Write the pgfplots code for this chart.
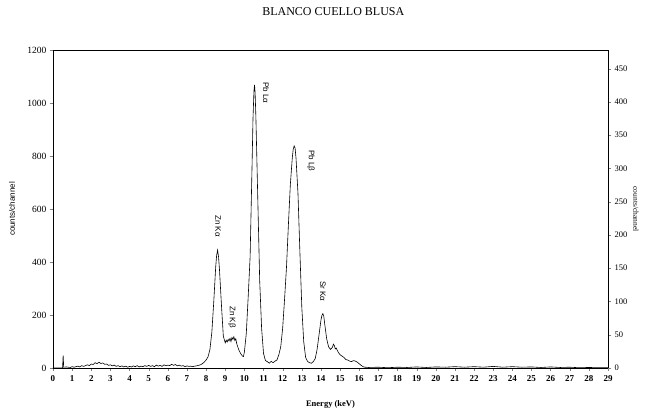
\documentclass[border=0pt]{standalone}
\usepackage{pgfplots}
\pgfplotsset{compat=1.18}
\usepackage{fontspec}
\setmainfont{Liberation Serif}
\newfontfamily\lsans{Liberation Sans}
\begin{document}
\begin{tikzpicture}
\path[use as bounding box] (-53pt,-41pt) rectangle (592pt,368pt);
\begin{axis}[
  scale only axis, width=555pt, height=318pt,
  xmin=0, xmax=29, ymin=0, ymax=1200,
  axis y line*=left, axis x line*=bottom,
  xtick={0,1,...,29}, ytick={0,200,...,1200},
  tick align=outside, tick pos=left,
  major tick length=3pt,
  /pgf/number format/assume math mode=true,
  /pgf/number format/1000 sep={},
  x tick label style={font=\fontsize{9}{10}\selectfont\bfseries, yshift=-1pt},
  y tick label style={font=\fontsize{9.5}{10}\selectfont},
  xlabel={Energy (keV)},
  xlabel style={font=\fontsize{8.5}{9}\selectfont\bfseries, at={(axis description cs:0.5,0)}, anchor=center, yshift=-36pt},
  ylabel={counts/channel},
  ylabel style={font=\lsans\fontsize{8}{9}\selectfont, at={(axis description cs:-0.0739,0.5)}, anchor=center},
  title={BLANCO CUELLO BLUSA},
  title style={font=\fontsize{12}{13}\selectfont, at={(axis description cs:0.505,1)}, anchor=center, yshift=32pt},
  axis line style={line width=0.7pt},
  clip=false,
]
\addplot[black, line width=0.6pt] coordinates {
(0.0,0) (0.5,0) (0.53,48) (0.56,3) (0.7,4) (0.9,2) (1.0,5) (1.1,3) (1.3,7) (1.4,4) (1.5,9) (1.6,6) (1.8,12) (1.9,9)
(2.0,15) (2.1,13) (2.2,20) (2.3,16) (2.4,22) (2.5,17) (2.6,19) (2.7,14) (2.8,15) (2.9,10) (3.0,12) (3.1,8) (3.2,11)
(3.3,6) (3.4,9) (3.5,5) (3.6,8) (3.7,4) (3.8,7) (3.9,3) (4.0,6) (4.1,4) (4.2,8) (4.3,5) (4.4,9) (4.5,4) (4.6,7) (4.7,5)
(4.8,9) (4.9,6) (5.0,10) (5.1,6) (5.2,9) (5.3,5) (5.4,11) (5.5,7) (5.6,10) (5.7,6) (5.8,12) (5.9,8) (6.0,11) (6.1,9)
(6.2,14) (6.3,10) (6.4,13) (6.5,8) (6.6,11) (6.7,7) (6.8,9) (6.9,5) (7.0,8) (7.1,6) (7.2,7) (7.3,5) (7.4,7)
(7.5,8) (7.6,10) (7.7,12) (7.8,16) (7.9,22) (8.0,30) (8.1,42) (8.2,70) (8.3,135) (8.4,250) (8.5,380) (8.55,425)
(8.6,445) (8.65,420) (8.7,370) (8.8,240) (8.9,120) (9.0,95) (9.05,105) (9.1,98) (9.15,108) (9.2,102) (9.25,112)
(9.3,100) (9.35,115) (9.4,108) (9.45,118) (9.5,104) (9.55,110) (9.6,92) (9.7,70) (9.8,55) (9.9,45) (9.95,43)
(10.0,60) (10.1,130) (10.2,270) (10.3,420) (10.4,760) (10.45,940) (10.5,1045) (10.53,1068) (10.56,1040) (10.6,950)
(10.7,640) (10.8,330) (10.9,150) (11.0,55) (11.1,28) (11.2,24) (11.3,18) (11.4,25) (11.5,20) (11.6,26) (11.7,30)
(11.8,50) (11.9,80) (12.0,150) (12.1,260) (12.2,380) (12.3,540) (12.4,690) (12.5,790) (12.55,825) (12.6,838)
(12.65,830) (12.7,790) (12.8,660) (12.9,440) (13.0,230) (13.1,100) (13.2,40) (13.3,25) (13.4,20) (13.5,18)
(13.6,24) (13.7,35) (13.8,70) (13.9,125) (14.0,180) (14.05,198) (14.1,205) (14.15,195) (14.2,165) (14.3,110)
(14.4,80) (14.5,70) (14.6,78) (14.65,90) (14.7,85) (14.75,72) (14.8,75) (14.9,60) (15.0,50) (15.1,45) (15.2,40)
(15.3,32) (15.4,30) (15.5,26) (15.6,24) (15.7,28) (15.8,26) (15.9,22) (16.0,16) (16.1,10) (16.2,5) (16.3,3)
(16.5,2) (17.0,3) (17.5,1) (18.0,3) (18.5,2) (19.0,4) (19.5,2) (20.0,4) (20.5,3) (21.0,5) (21.5,3) (22.0,5)
(22.5,3) (23.0,6) (23.5,3) (24.0,5) (24.5,3) (25.0,4) (25.5,2) (26.0,4) (26.5,2) (27.0,3) (27.5,1) (28.0,2) (28.5,1) (29.0,1)
};
\node[font=\lsans\fontsize{8}{9}\selectfont, rotate=-90] at (axis cs:8.62,536) {Zn Kα};
\node[font=\lsans\fontsize{8}{9}\selectfont, rotate=-90] at (axis cs:9.35,192) {Zn Kβ};
\node[font=\lsans\fontsize{8}{9}\selectfont, rotate=-90] at (axis cs:11.13,1038) {Pb Lα};
\node[font=\lsans\fontsize{8}{9}\selectfont, rotate=-90] at (axis cs:13.48,781) {Pb Lβ};
\node[font=\lsans\fontsize{8}{9}\selectfont, rotate=-90] at (axis cs:14.1,290) {Sr Kα};
\end{axis}
\begin{axis}[
  scale only axis, width=555pt, height=318pt,
  xmin=0, xmax=29, ymin=0, ymax=478,
  axis y line*=right, axis x line=none,
  ytick={0,50,...,450},
  tick align=outside,
  major tick length=3pt,
  /pgf/number format/assume math mode=true,
  y tick label style={font=\fontsize{8.5}{9}\selectfont},
  ylabel={counts/channel},
  ylabel style={font=\fontsize{7.5}{8}\selectfont, at={(axis description cs:1.0505,0.5)}, anchor=center, rotate=180},
  axis line style={line width=1pt},
]
\addplot[draw=none] coordinates {(0,0) (29,0)};
\end{axis}
\draw[line width=0.7pt] (0pt,318pt) -- (555pt,318pt);
\end{tikzpicture}
\end{document}
